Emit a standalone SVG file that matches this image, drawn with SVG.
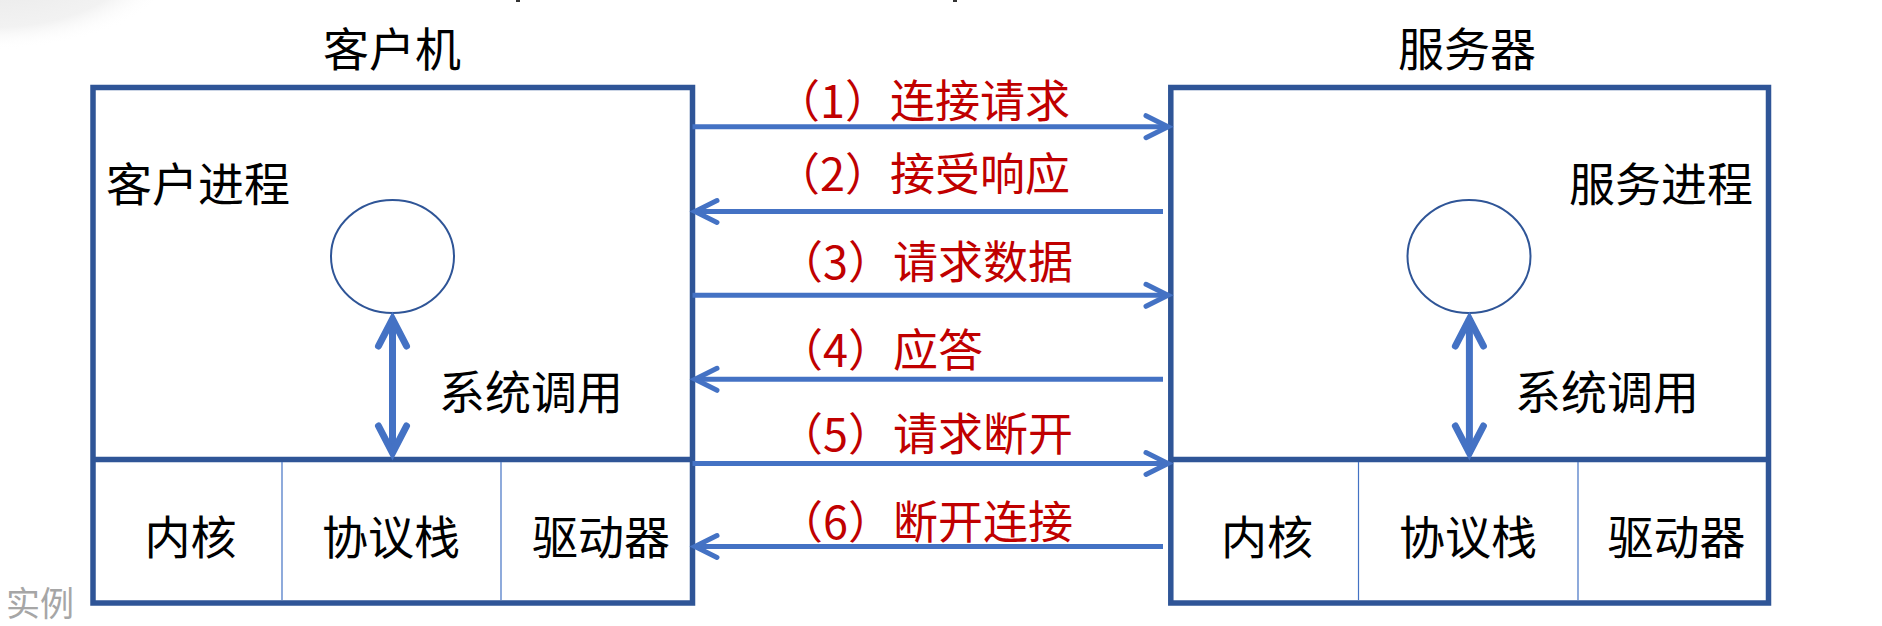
<svg xmlns="http://www.w3.org/2000/svg" width="1882" height="626" viewBox="0 0 1882 626">
<style>
  .box { fill: none; stroke: #2F5597; stroke-width: 5.5; }
  .div { stroke: #2F5597; stroke-width: 5.5; }
  .thin { stroke: #4472C4; stroke-width: 1.2; }
  .proc { fill: none; stroke: #2F5597; stroke-width: 2; }
  .blk { font-family: "Noto Sans CJK SC", "Noto Sans", sans-serif; font-size: 46px; fill: #000; }
  .red { font-family: "Noto Sans CJK SC", "Noto Sans", sans-serif; font-size: 45px; fill: #C00000; }
  .mid { text-anchor: middle; }
  .msg { fill: none; stroke: #4472C4; stroke-width: 5; }
  .sys { fill: none; stroke: #4472C4; stroke-width: 7; }
  .gray { font-family: "Noto Sans CJK SC", sans-serif; font-size: 34px; fill: #A6A6A6; }
</style>
<defs>
  <radialGradient id="shade" cx="0.5" cy="0.5" r="0.5">
    <stop offset="0" stop-color="#E6E6E6"/>
    <stop offset="0.75" stop-color="#F2F2F2"/>
    <stop offset="1" stop-color="#FFFFFF" stop-opacity="0"/>
  </radialGradient>
  <marker id="head" markerUnits="userSpaceOnUse" viewBox="-30 -16 36 32" refX="0" refY="0" markerWidth="36" markerHeight="32" orient="auto-start-reverse" overflow="visible">
    <path d="M-22,-11 L0,0 L-22,11" fill="none" stroke="#4472C4" stroke-width="5" stroke-linecap="round" stroke-linejoin="miter"/>
  </marker>
  <marker id="vhead" markerUnits="userSpaceOnUse" viewBox="-36 -20 42 40" refX="0" refY="0" markerWidth="42" markerHeight="40" orient="auto-start-reverse" overflow="visible">
    <path d="M-28,-14 L-1,0 L-28,14" fill="none" stroke="#4472C4" stroke-width="7" stroke-linecap="round" stroke-linejoin="miter"/>
  </marker>
</defs>
<rect width="1882" height="626" fill="#FFFFFF"/>
<ellipse cx="-10" cy="-40" rx="190" ry="90" fill="url(#shade)"/>
<rect x="516" y="0" width="4" height="2" fill="#333333"/>
<rect x="953" y="0" width="4" height="2" fill="#333333"/>
<text class="gray" x="6" y="616">实例</text>

<g id="client">
  <text class="blk mid" x="392" y="66">客户机</text>
  <rect class="box" x="93" y="87.5" width="599.5" height="515.5"/>
  <line class="div" x1="93" y1="459.5" x2="692.5" y2="459.5"/>
  <line class="thin" x1="282" y1="462" x2="282" y2="600"/>
  <line class="thin" x1="501" y1="462" x2="501" y2="600"/>
  <text class="blk" x="106" y="201">客户进程</text>
  <ellipse class="proc" cx="392.5" cy="256.5" rx="61.5" ry="56.5"/>
  <text class="blk" x="439" y="409">系统调用</text>
  <text class="blk mid" x="190.5" y="554">内核</text>
  <text class="blk mid" x="391" y="554">协议栈</text>
  <text class="blk mid" x="601" y="554">驱动器</text>
</g>

<g id="server">
  <text class="blk mid" x="1467" y="66">服务器</text>
  <rect class="box" x="1170.8" y="87.5" width="597.7" height="515.5"/>
  <line class="div" x1="1170.8" y1="459.5" x2="1768.5" y2="459.5"/>
  <line class="thin" x1="1358.5" y1="462" x2="1358.5" y2="600"/>
  <line class="thin" x1="1578" y1="462" x2="1578" y2="600"/>
  <text class="blk" x="1569" y="201">服务进程</text>
  <ellipse class="proc" cx="1469" cy="256.5" rx="61.5" ry="56.5"/>
  <text class="blk" x="1515" y="409">系统调用</text>
  <text class="blk mid" x="1267" y="554">内核</text>
  <text class="blk mid" x="1468" y="554">协议栈</text>
  <text class="blk mid" x="1676.5" y="554">驱动器</text>
</g>

<g id="connectors">
  <line class="sys" x1="392.5" y1="318" x2="392.5" y2="454" marker-start="url(#vhead)" marker-end="url(#vhead)"/>
  <line class="sys" x1="1469.4" y1="318" x2="1469.4" y2="454" marker-start="url(#vhead)" marker-end="url(#vhead)"/>
  <line class="msg" x1="692.5" y1="126.7" x2="1168" y2="126.7" marker-end="url(#head)"/>
  <line class="msg" x1="1163" y1="211.5" x2="695" y2="211.5" marker-end="url(#head)"/>
  <line class="msg" x1="692.5" y1="295.3" x2="1168" y2="295.3" marker-end="url(#head)"/>
  <line class="msg" x1="1163" y1="379.3" x2="695" y2="379.3" marker-end="url(#head)"/>
  <line class="msg" x1="692.5" y1="463.5" x2="1168" y2="463.5" marker-end="url(#head)"/>
  <line class="msg" x1="1163" y1="546.5" x2="695" y2="546.5" marker-end="url(#head)"/>
</g>

<g id="labels">
  <text class="red" x="775" y="118">（1）连接请求</text>
  <text class="red" x="775" y="191">（2）接受响应</text>
  <text class="red" x="778" y="279">（3）请求数据</text>
  <text class="red" x="778" y="367">（4）应答</text>
  <text class="red" x="778" y="451">（5）请求断开</text>
  <text class="red" x="778" y="539">（6）断开连接</text>
</g>
</svg>
